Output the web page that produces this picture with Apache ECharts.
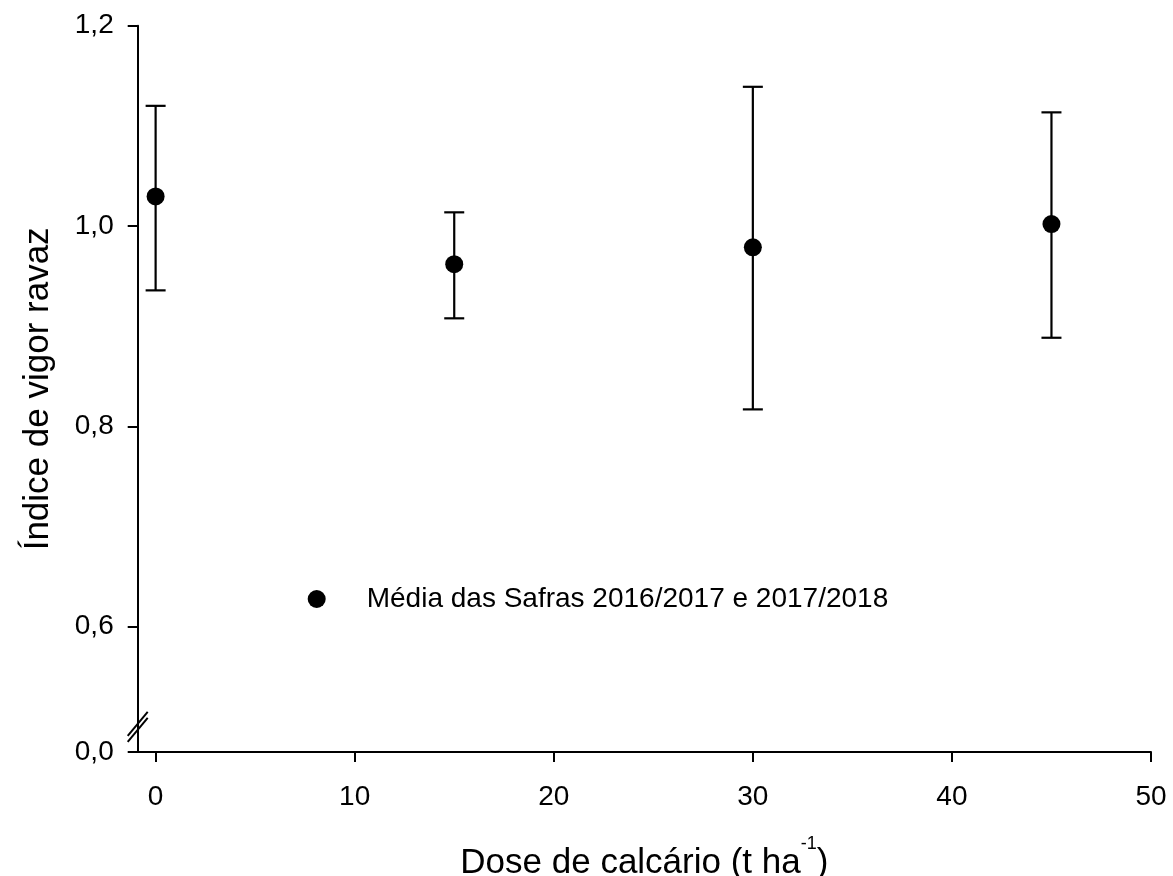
<!DOCTYPE html>
<html>
<head>
<meta charset="utf-8">
<script src="https://cdn.jsdelivr.net/npm/echarts@6/dist/echarts.min.js"></script>
<style>
  html, body { margin: 0; padding: 0; background: #fff; }
  #chart { width: 1173px; height: 876px; }
</style>
</head>
<body>
<div id="chart"></div>
<script>
// Doses of lime (t/ha) and the Ravaz vigour index, mean of two seasons
const doses = [0, 15, 30, 45];
const means = [1.0296, 0.962, 0.9788, 1.002];
const upper = [1.120, 1.0137, 1.139, 1.1135];
const lower = [0.9358, 0.9079, 0.817, 0.8885];

const seriesName = 'Média das Safras 2016/2017 e 2017/2018';
const xTicks = [0, 10, 20, 30, 40, 50];
const yTicks = [0.6, 0.8, 1.0, 1.2];
// bottom of the broken y axis, labelled as zero
const yBreakValue = 0.475;
const yBreakLabel = '0,0';

const FONT = '"Liberation Sans", Arial, sans-serif';
const chart = echarts.init(document.getElementById('chart'), null, { renderer: 'canvas' });

const errData = doses.map((d, i) => [d, lower[i], upper[i]]);
const ptData = doses.map((d, i) => [d, means[i]]);

const option = {
  animation: false,
  backgroundColor: '#fff',
  grid: { left: 137.7, right: 22, top: 25.7, bottom: 124, containLabel: false, outerBoundsMode: 'none' },
  legend: {
    data: [{ name: seriesName, itemStyle: { color: '#000', opacity: 1 } }],
    left: 302.7,
    top: 580,
    icon: 'circle',
    itemWidth: 18,
    itemHeight: 18,
    textStyle: { fontFamily: FONT, fontSize: 28, color: '#000', padding: [0, 0, 0, 36] },
    selectedMode: false
  },
  xAxis: {
    type: 'value',
    min: -0.9,
    max: 50,
    name: '{b|Dose de calcário (t ha}{sup|-1}{b|)}',
    nameLocation: 'middle',
    nameGap: 83,
    nameTextStyle: {
      fontFamily: FONT, fontSize: 35, color: '#000',
      rich: {
        b: { fontFamily: FONT, fontSize: 35, color: '#000', lineHeight: 46, verticalAlign: 'bottom' },
        sup: { fontFamily: FONT, fontSize: 18, color: '#000', lineHeight: 18, verticalAlign: 'top' }
      }
    },
    axisLine: { show: true, onZero: false, lineStyle: { color: '#000', width: 2 } },
    axisTick: { show: true, length: 10, inside: false, lineStyle: { color: '#000', width: 2 }, customValues: xTicks },
    axisLabel: { customValues: xTicks, fontFamily: FONT, fontSize: 28, color: '#000', margin: 31 },
    splitLine: { show: false }
  },
  yAxis: {
    type: 'value',
    min: yBreakValue,
    max: 1.2,
    name: 'Índice de vigor ravaz',
    nameLocation: 'middle',
    nameGap: 82,
    nameRotate: 90,
    nameTextStyle: { fontFamily: FONT, fontSize: 35, color: '#000' },
    axisLine: { show: true, onZero: false, lineStyle: { color: '#000', width: 2 } },
    axisTick: { show: true, length: 10, inside: false, lineStyle: { color: '#000', width: 2 }, customValues: [yBreakValue].concat(yTicks) },
    axisLabel: {
      customValues: [yBreakValue].concat(yTicks),
      fontFamily: FONT, fontSize: 28, color: '#000', margin: 24,
      formatter: v => Math.abs(v - yBreakValue) < 1e-6 ? yBreakLabel : v.toFixed(1).replace('.', ',')
    },
    splitLine: { show: false }
  },
  series: [
    {
      type: 'custom',
      name: 'erro',
      data: errData,
      z: 2,
      silent: true,
      renderItem: function (params, api) {
        const x = api.value(0);
        const lo = api.coord([x, api.value(1)]);
        const hi = api.coord([x, api.value(2)]);
        const half = 10;
        const style = { stroke: '#000', lineWidth: 2.2, fill: null };
        return {
          type: 'group',
          children: [
            { type: 'line', shape: { x1: lo[0], y1: lo[1], x2: hi[0], y2: hi[1] }, style },
            { type: 'line', shape: { x1: hi[0] - half, y1: hi[1], x2: hi[0] + half, y2: hi[1] }, style },
            { type: 'line', shape: { x1: lo[0] - half, y1: lo[1], x2: lo[0] + half, y2: lo[1] }, style }
          ]
        };
      }
    },
    {
      type: 'scatter',
      name: seriesName,
      data: ptData,
      symbol: 'circle',
      symbolSize: 18,
      z: 3,
      itemStyle: { color: '#000', opacity: 1 },
      emphasis: { disabled: true }
    }
  ]
};

chart.setOption(option);

// Double-slash mark showing the break on the y axis
const axisX = chart.convertToPixel({ gridIndex: 0 }, [-0.9, yBreakValue])[0];
const breakY = chart.convertToPixel({ gridIndex: 0 }, [0, yBreakValue + 0.02])[1];
chart.setOption({
  graphic: [
    { type: 'line', shape: { x1: axisX - 10, y1: breakY + 10, x2: axisX + 10, y2: breakY - 14 }, style: { stroke: '#000', lineWidth: 2 }, z: 10 },
    { type: 'line', shape: { x1: axisX - 10, y1: breakY + 4, x2: axisX + 10, y2: breakY - 20 }, style: { stroke: '#000', lineWidth: 2 }, z: 10 }
  ]
});
</script>
</body>
</html>
